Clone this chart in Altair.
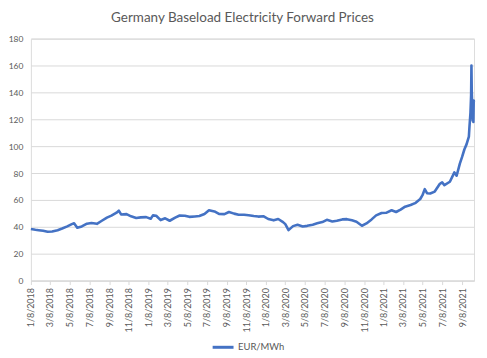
import altair as alt
import pandas as pd

# ---- data ----
dates = [
    "2018-01-08", "2018-01-22", "2018-02-01", "2018-02-15", "2018-03-01", "2018-03-15",
    "2018-04-01", "2018-04-15", "2018-05-01", "2018-05-15", "2018-05-22", "2018-06-01",
    "2018-06-15", "2018-07-01", "2018-07-15", "2018-08-01", "2018-08-15", "2018-09-01",
    "2018-09-15", "2018-10-01", "2018-10-08", "2018-10-15", "2018-11-01", "2018-11-15",
    "2018-12-01", "2018-12-15",
    "2019-01-01", "2019-01-15", "2019-01-22", "2019-02-01", "2019-02-15", "2019-03-01",
    "2019-03-15", "2019-04-01", "2019-04-15", "2019-05-01", "2019-05-15", "2019-06-01",
    "2019-06-15", "2019-07-01", "2019-07-15", "2019-08-01", "2019-08-15", "2019-09-01",
    "2019-09-15", "2019-10-01", "2019-10-15", "2019-11-01", "2019-11-15", "2019-12-01",
    "2019-12-15",
    "2020-01-01", "2020-01-15", "2020-02-01", "2020-02-15", "2020-03-01", "2020-03-08",
    "2020-03-18", "2020-04-01", "2020-04-15", "2020-05-01", "2020-05-15", "2020-06-01",
    "2020-06-15", "2020-07-01", "2020-07-15", "2020-08-01", "2020-08-15", "2020-09-01",
    "2020-09-15", "2020-10-01", "2020-10-15", "2020-11-01", "2020-11-15", "2020-12-01",
    "2020-12-15",
    "2021-01-01", "2021-01-15", "2021-02-01", "2021-02-15", "2021-03-01", "2021-03-15",
    "2021-04-01", "2021-04-15", "2021-05-01", "2021-05-08", "2021-05-15", "2021-05-22",
    "2021-06-01", "2021-06-15", "2021-07-01", "2021-07-08", "2021-07-15", "2021-08-01",
    "2021-08-15", "2021-08-22", "2021-09-01", "2021-09-08", "2021-09-15", "2021-09-22",
    "2021-09-29", "2021-10-01", "2021-10-04", "2021-10-06", "2021-10-07", "2021-10-08",
    "2021-10-11", "2021-10-12", "2021-10-13", "2021-10-14", "2021-10-15",
]
prices = [
    38.3, 37.8, 37.5, 37.0, 36.3, 36.5,
    37.5, 38.7, 40.3, 42.0, 42.6, 39.3,
    40.3, 42.3, 42.8, 42.2, 44.3, 46.8,
    48.3, 50.5, 52.0, 49.2, 49.4, 47.8,
    46.5, 47.0,
    47.2, 46.0, 48.5, 48.2, 45.0, 46.3,
    44.5, 46.8, 48.4, 48.2, 47.4, 47.7,
    48.0, 49.5, 52.3, 51.4, 49.6, 49.4,
    51.0, 49.8, 49.0, 49.0, 48.6, 48.0,
    47.6,
    47.8, 45.8, 44.8, 45.8, 43.5, 42.0,
    37.5, 40.5, 41.5, 40.2, 40.7, 41.6,
    42.6, 43.5, 45.2, 44.0, 44.5, 45.5,
    45.7, 44.8, 43.8, 40.8, 42.5, 45.5,
    48.5,
    50.3, 50.4, 52.3, 51.0, 52.8, 55.0,
    56.2, 57.6, 60.7, 63.5, 68.0, 65.0,
    64.8, 66.2, 72.0, 73.0, 71.0, 73.5,
    80.5, 78.0, 87.0, 92.0, 97.5, 101.5,
    107.0, 115.0, 125.0, 138.0, 160.0, 140.0,
    119.0, 128.0, 118.0, 134.0, 133.0,
]
series_name = "EUR/MWh"
tick_dates = [
    "2018-01-08", "2018-03-08", "2018-05-08", "2018-07-08", "2018-09-08", "2018-11-08",
    "2019-01-08", "2019-03-08", "2019-05-08", "2019-07-08", "2019-09-08", "2019-11-08",
    "2020-01-08", "2020-03-08", "2020-05-08", "2020-07-08", "2020-09-08", "2020-11-08",
    "2021-01-08", "2021-03-08", "2021-05-08", "2021-07-08", "2021-09-08",
]
y_ticks = [0, 20, 40, 60, 80, 100, 120, 140, 160, 180]
domain_dates = ["2018-01-08", "2021-10-15"]


def to_dt(s):
    y, m, d = (int(p) for p in s.split("-"))
    return alt.DateTime(year=y, month=m, date=d)


df = pd.DataFrame({
    "date": [d + "T00:00:00" for d in dates],
    "price": prices,
    "series": [series_name] * len(dates),
})

FONT = "Lato"
GREY = "#595959"
GRID = "#D9D9D9"

chart = (
    alt.Chart(df)
    .mark_line(strokeWidth=2.6, strokeJoin="round")
    .encode(
        x=alt.X(
            "date:T",
            scale=alt.Scale(domain=[to_dt(d) for d in domain_dates]),
            axis=alt.Axis(
                values=[to_dt(d) for d in tick_dates],
                format="%-m/%-d/%Y",
                labelAngle=-90,
                labelFontSize=9,
                labelColor=GREY,
                labelFont=FONT,
                labelPadding=3,
                tickColor=GRID,
                tickSize=4,
                domainColor=GRID,
                grid=False,
                title=None,
                labelOverlap=False,
            ),
        ),
        y=alt.Y(
            "price:Q",
            scale=alt.Scale(domain=[0, 180], nice=False),
            axis=alt.Axis(
                values=y_ticks,
                labelFontSize=8.5,
                labelColor=GREY,
                labelFont=FONT,
                labelPadding=8,
                ticks=False,
                domain=False,
                grid=True,
                gridColor=GRID,
                title=None,
            ),
        ),
        color=alt.Color(
            "series:N",
            scale=alt.Scale(range=["#4472C4"]),
            legend=alt.Legend(
                title=None,
                orient="none",
                legendX=181,
                legendY=298,
                symbolType="stroke",
                symbolStrokeWidth=3,
                symbolSize=440,
                labelFontSize=9.5,
                labelColor=GREY,
                labelFont=FONT,
                labelOffset=3,
                padding=0,
            ),
        ),
    )
    .properties(
        width=445,
        height=243,
        padding={"left": 23, "top": 30, "right": 5, "bottom": 70},
        autosize=alt.AutoSizeParams(type="none"),
        title=alt.Title(
            "Germany Baseload Electricity Forward Prices",
            font=FONT,
            fontSize=13.5,
            fontWeight="normal",
            color=GREY,
            anchor="middle",
            dx=-10,
            offset=10,
        ),
    )
    .configure_view(stroke=None)
    .configure(background="white")
)

chart.save("out.html", embed_options={"renderer": "svg", "actions": False})
